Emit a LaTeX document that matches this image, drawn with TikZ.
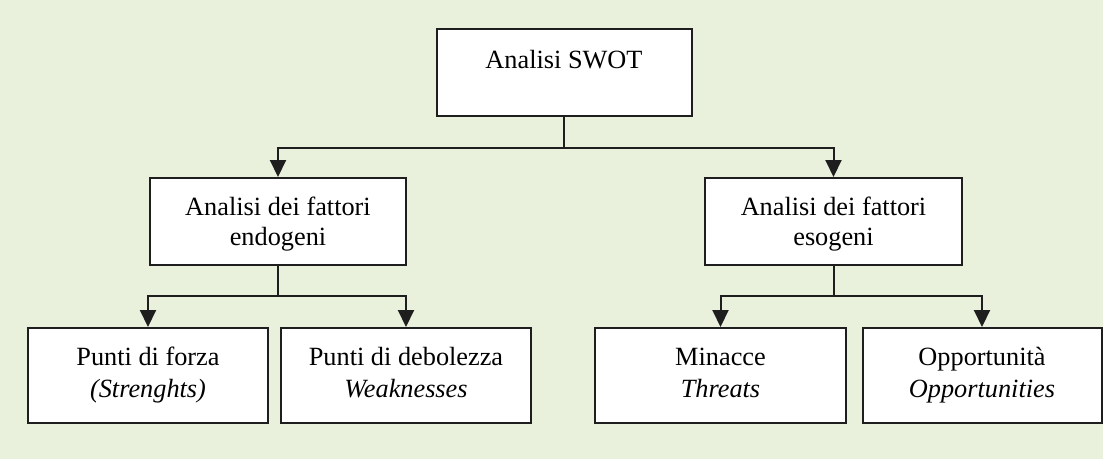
\documentclass[tikz,border=0pt]{standalone}
\usepackage{fontspec}
\setmainfont{Liberation Serif}
\usetikzlibrary{arrows.meta,calc}
\definecolor{bg}{HTML}{E9F0DB}
\definecolor{ink}{HTML}{1E1E1E}
\begin{document}
\begin{tikzpicture}[x=1pt,y=-1pt,
  box/.style={draw=ink,line width=2pt,fill=white,inner sep=0pt,align=center,
    font=\fontsize{26.3}{31}\selectfont},
  midbox/.style={box,minimum height=87pt,text height=50pt,text depth=3pt,
    font=\fontsize{26.3}{30}\selectfont},
  lowbox/.style={box,minimum height=95pt,text height=52pt,text depth=9pt,
    font=\fontsize{26.3}{32}\selectfont},
  conn/.style={draw=ink,line width=2pt},
  arr/.style={conn,-{Triangle[length=17pt,width=16pt]}}]
\fill[bg] (0,0) rectangle (1103,459);
\useasboundingbox (0,0) rectangle (1103,459);
% boxes
\node[box,minimum width=255pt,minimum height=87pt,text height=20pt,text depth=29pt] (top) at (564,72.5) {Analisi SWOT};
\node[midbox,minimum width=256pt] (midL) at (278,221.5) {Analisi dei fattori\\endogeni};
\node[midbox,minimum width=257pt] (midR) at (833.5,221.5) {Analisi dei fattori\\esogeni};
\node[lowbox,minimum width=240pt] (s) at (148,375.5) {Punti di forza\\\textit{(Strenghts)}};
\node[lowbox,minimum width=250pt] (w) at (406,375.5) {Punti di debolezza\\\textit{Weaknesses}};
\node[lowbox,minimum width=251pt] (t) at (720.5,375.5) {Minacce\\\textit{Threats}};
\node[lowbox,minimum width=239pt] (o) at (982,375.5) {Opportunità\\\textit{Opportunities}};
% junctions
\coordinate (j0) at ($(top.south)+(0,31)$);
\coordinate (j1) at ($(midL.south)+(0,30)$);
\coordinate (j2) at ($(midR.south)+(0,30)$);
% connectors
\draw[conn] (top.south) -- (j0);
\draw[arr] (j0) -| (midL.north);
\draw[arr] (j0) -| (midR.north);
\draw[conn] (midL.south) -- (j1);
\draw[arr] (j1) -| (s.north);
\draw[arr] (j1) -| (w.north);
\draw[conn] (midR.south) -- (j2);
\draw[arr] (j2) -| (t.north);
\draw[arr] (j2) -| (o.north);
\end{tikzpicture}
\end{document}
